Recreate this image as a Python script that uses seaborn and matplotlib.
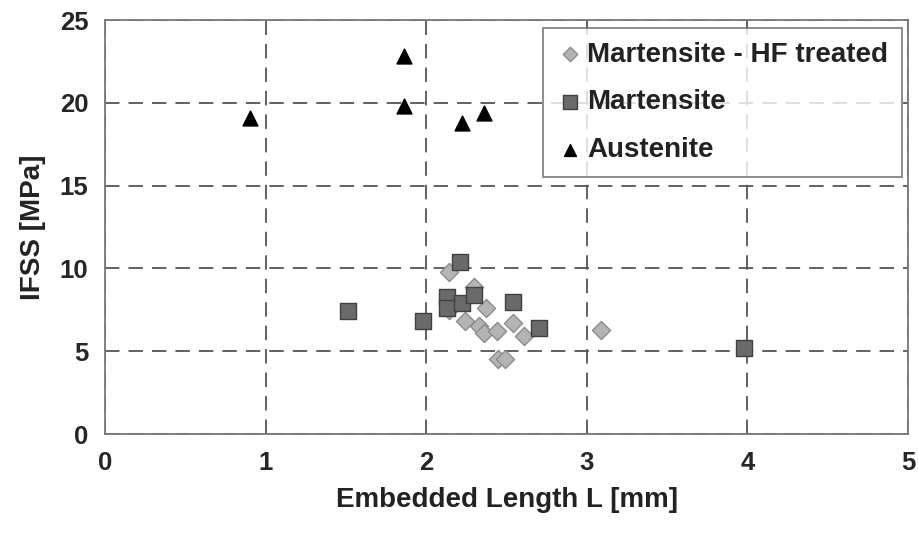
import matplotlib
matplotlib.use("Agg")
import matplotlib.pyplot as plt
import seaborn as sns
import pandas as pd

hf_x = [2.14, 2.30, 2.37, 2.24, 2.33, 2.36, 2.44, 2.54, 2.61, 2.45, 2.49, 3.09, 2.14]
hf_y = [9.8, 8.9, 7.6, 6.8, 6.5, 6.1, 6.2, 6.7, 5.9, 4.5, 4.5, 6.3, 7.5]
mart_x = [1.51, 1.98, 2.13, 2.13, 2.21, 2.22, 2.30, 2.54, 2.70, 3.98]
mart_y = [7.4, 6.8, 8.3, 7.6, 10.4, 7.9, 8.4, 8.0, 6.4, 5.2]
aus_x = [0.90, 1.86, 1.86, 2.22, 2.36]
aus_y = [19.1, 22.8, 19.8, 18.8, 19.4]

series = ["Martensite - HF treated", "Martensite", "Austenite"]

df = pd.concat([
    pd.DataFrame({"L": hf_x, "IFSS": hf_y, "series": series[0]}),
    pd.DataFrame({"L": mart_x, "IFSS": mart_y, "series": series[1]}),
    pd.DataFrame({"L": aus_x, "IFSS": aus_y, "series": series[2]}),
], ignore_index=True)

sns.set_style("white")
plt.rcParams['font.family'] = ['Liberation Sans', 'DejaVu Sans']
plt.rcParams['font.weight'] = 'bold'

fig = plt.figure(figsize=(9.18, 5.33), dpi=100)
ax = fig.add_axes([105/918, 1-434/533, 803/918, 414/533])

palette = {series[0]: "#b4b4b4", series[1]: "#6a6a6a", series[2]: "#000000"}
markers = {series[0]: "D", series[1]: "s", series[2]: "^"}
edges = {series[0]: "#8c8c8c", series[1]: "#404040", series[2]: "#000000"}
sizes = {series[0]: 85, series[1]: 140, series[2]: 115}

for s in series:
    sub = df[df.series == s]
    sns.scatterplot(data=sub, x="L", y="IFSS", color=palette[s], marker=markers[s],
                    s=sizes[s], edgecolor=edges[s], linewidth=1.0, ax=ax, label=s, zorder=3)

ax.set_xlim(0, 5)
ax.set_ylim(0, 25)
ax.set_xticks([0, 1, 2, 3, 4, 5])
ax.set_yticks([0, 5, 10, 15, 20, 25])
ax.grid(True, color="#555555", linestyle=(0, (8, 5)), linewidth=1.3)
for sp in ax.spines.values():
    sp.set_color("#777777")
    sp.set_linewidth(1.3)
ax.tick_params(axis='both', labelsize=18.5, length=5, color="#777777", direction='out', pad=7)
for lab in ax.get_xticklabels() + ax.get_yticklabels():
    lab.set_fontweight('bold')
ax.set_xlabel("Embedded Length L [mm]", fontsize=20, fontweight='bold', labelpad=9, color="#222222")
ax.set_ylabel("IFSS [MPa]", fontsize=20, fontweight='bold', labelpad=10, color="#222222")

leg = ax.legend(loc="upper right", bbox_to_anchor=(0.9925, 0.981), fontsize=20, frameon=True,
                fancybox=False, edgecolor="#666666", handletextpad=0.1, borderpad=0.5,
                labelspacing=0.78, markerscale=0.8, handlelength=1.0, borderaxespad=0)
leg.get_frame().set_linewidth(1.3)
for t in leg.get_texts():
    t.set_fontweight('bold')
    t.set_color("#222222")

fig.savefig("out.png", dpi=100)
